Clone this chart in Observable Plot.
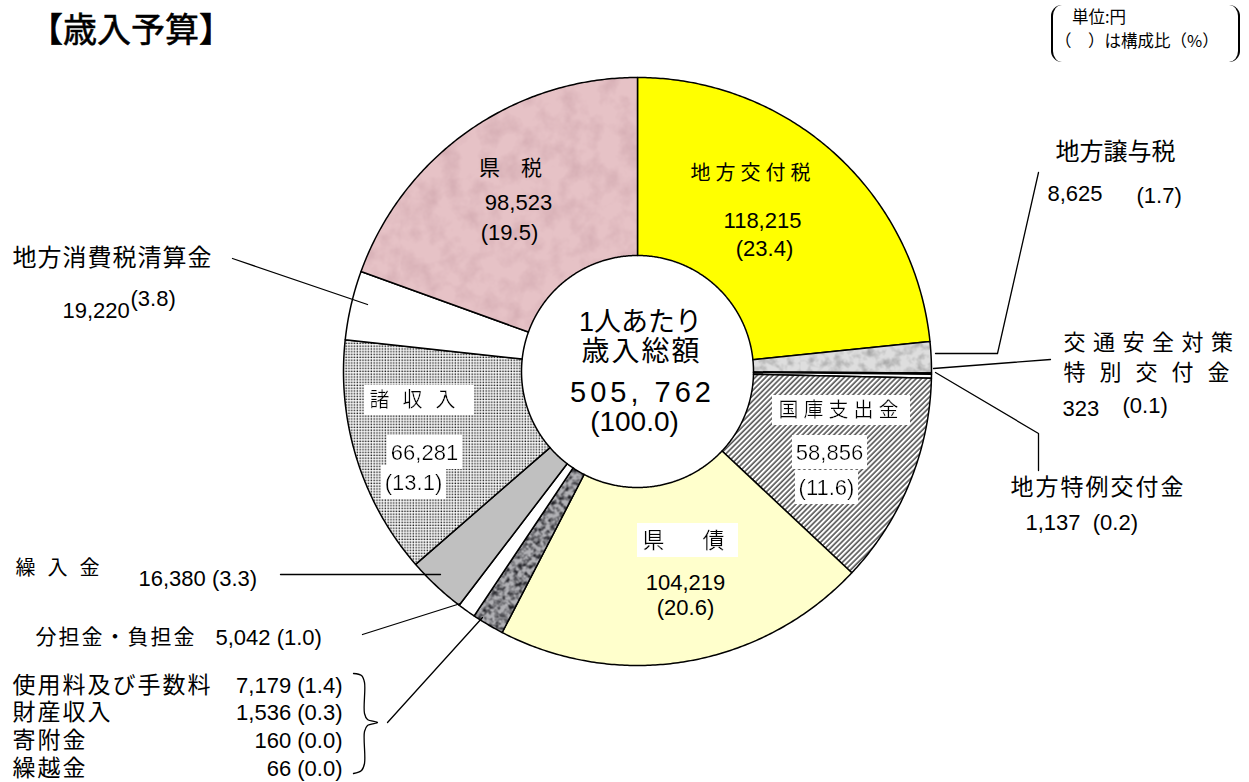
<!DOCTYPE html>
<html lang="ja"><head><meta charset="utf-8">
<script src="https://cdn.jsdelivr.net/npm/d3@7"></script>
<script src="https://cdn.jsdelivr.net/npm/@observablehq/plot@0.6"></script>
<style>
html,body{margin:0;padding:0;background:#fff;}
#wrap{position:relative;width:1249px;height:782px;overflow:hidden;font-family:'Liberation Sans','Noto Sans CJK JP',sans-serif;color:#000;}
#chart{position:absolute;left:0;top:0;}
#title{position:absolute;left:29px;top:5px;font-size:34px;font-weight:400;font-family:'Noto Sans CJK JP',sans-serif;line-height:46px;z-index:2;white-space:nowrap;-webkit-text-stroke:0.6px #000;}
#unit{position:absolute;left:1051px;top:5px;width:189px;height:57px;border-left:2px solid #000;border-right:2px solid #000;border-radius:11px;z-index:2;box-sizing:border-box;font-family:'Noto Sans CJK JP',sans-serif;font-size:16.5px;}
#unit .l1{position:absolute;left:19px;top:0px;line-height:23px;white-space:nowrap;}
#unit .l2{position:absolute;left:2px;top:24px;line-height:23px;white-space:nowrap;}
</style></head><body>
<svg width="0" height="0" style="position:absolute">
<defs>
  <pattern id="pHatch" patternUnits="userSpaceOnUse" width="3.7" height="10" patternTransform="rotate(45)">
    <rect width="3.7" height="10" fill="#fff"/>
    <line x1="1" y1="0" x2="1" y2="10" stroke="#1a1a1a" stroke-width="1.2"/>
  </pattern>
  <pattern id="pDots" patternUnits="userSpaceOnUse" width="2.8" height="2.8">
    <rect width="2.8" height="2.8" fill="#fff"/>
    <rect x="0.5" y="0.5" width="1.5" height="1.5" fill="#222"/>
  </pattern>
  <filter id="fNoisePink" x="0" y="0" width="1" height="1" color-interpolation-filters="sRGB">
    <feTurbulence type="fractalNoise" baseFrequency="0.05" numOctaves="4" seed="4"/>
    <feColorMatrix type="matrix" values="0 0 0 0 0.70  0 0 0 0 0.52  0 0 0 0 0.56  0.7 0 0 0 -0.28"/>
  </filter>
  <filter id="fNoiseLight" x="0" y="0" width="1" height="1" color-interpolation-filters="sRGB">
    <feTurbulence type="fractalNoise" baseFrequency="0.12" numOctaves="3" seed="7"/>
    <feColorMatrix type="matrix" values="0 0 0 0 0.5  0 0 0 0 0.5  0 0 0 0 0.5  1.4 0 0 0 -0.6"/>
  </filter>
  <filter id="fNoiseDark" x="0" y="0" width="1" height="1" color-interpolation-filters="sRGB">
    <feTurbulence type="fractalNoise" baseFrequency="0.22" numOctaves="2" seed="11"/>
    <feColorMatrix type="matrix" values="0 0 0 0 0.15  0 0 0 0 0.15  0 0 0 0 0.17  2.6 0 0 0 -1.0"/>
  </filter>
  <pattern id="pPink" patternUnits="userSpaceOnUse" width="400" height="400">
    <rect width="400" height="400" fill="#e6c2c6"/>
    <rect width="400" height="400" filter="url(#fNoisePink)"/>
  </pattern>
  <pattern id="pGrayLight" patternUnits="userSpaceOnUse" width="400" height="400">
    <rect width="400" height="400" fill="#dedede"/>
    <rect width="400" height="400" filter="url(#fNoiseLight)"/>
  </pattern>
  <pattern id="pGrayDark" patternUnits="userSpaceOnUse" width="400" height="400">
    <rect width="400" height="400" fill="#b0b0b4"/>
    <rect width="400" height="400" filter="url(#fNoiseDark)"/>
  </pattern>
  <filter id="fBox" x="-0.05" y="-0.16" width="1.1" height="1.32">
    <feFlood flood-color="#ffffff"/>
    <feComposite in="SourceGraphic" operator="over"/>
  </filter>
</defs>
</svg>
<div id="wrap">
  <div id="chart"></div>
  <div id="title">【歳入予算】</div>
  <div id="unit"><div class="l1">単位:円</div><div class="l2">（　）は構成比（%）</div></div>
</div>
<script>
// ---------------- data ----------------
const subCategories = ["使用料及び手数料", "財産収入", "寄附金", "繰越金"];
const subAmounts = [7179, 1536, 160, 66];
const subShares = [1.4, 0.3, 0.0, 0.0];

const categories = ["地方交付税", "地方譲与税", "交通安全対策特別交付金", "地方特例交付金", "国庫支出金", "県債",
  "使用料及び手数料等", "分担金・負担金", "繰入金", "諸収入", "地方消費税清算金", "県税"];
const amounts = [118215, 8625, 323, 1137, 58856, 104219,
  d3.sum(subAmounts), 5042, 16380, 66281, 19220, 98523];
const shares = [23.4, 1.7, 0.1, 0.2, 11.6, 20.6,
  null, 1.0, 3.3, 13.1, 3.8, 19.5];
const totalAmount = 505762;
const totalShare = 100.0;

// ---------------- styles / layout ----------------
const fills = ["#ffff00", "url(#pGrayLight)", "#ffffff", "#ffffff", "url(#pHatch)", "#ffffcc",
  "url(#pGrayDark)", "#ffffff", "#c0c0c0", "url(#pDots)", "#ffffff", "url(#pPink)"];
const W = 1249, H = 782;
const cx = 637, cy = 371, R = 294, R0 = 116;
const FONT = "'Liberation Sans','Noto Sans CJK JP',sans-serif";

const fmt = d3.format(",");
const idx = n => categories.indexOf(n);
const A = n => fmt(amounts[idx(n)]);
const P = n => `(${shares[idx(n)].toFixed(1)})`;

// slice polygons from d3.pie angles (clockwise from 12 o'clock)
const rows = categories.map((c, i) => ({cat: c, amount: amounts[i]}));
const arcs = d3.pie().sort(null).value(d => d.amount)(rows);
const slicePts = [];
const step = Math.PI / 360;
for (const a of arcs) {
  const n = Math.max(2, Math.ceil((a.endAngle - a.startAngle) / step));
  for (let k = 0; k <= n; k++) {
    const t = a.startAngle + (a.endAngle - a.startAngle) * k / n;
    slicePts.push({cat: a.data.cat, x: cx + R * Math.sin(t), y: cy - R * Math.cos(t)});
  }
  for (let k = n; k >= 0; k--) {
    const t = a.startAngle + (a.endAngle - a.startAngle) * k / n;
    slicePts.push({cat: a.data.cat, x: cx + R0 * Math.sin(t), y: cy - R0 * Math.cos(t)});
  }
}

// leader lines (layout)
const leaders = [
  ["譲与", [[1038,172],[997,353],[935,353]]],
  ["交通", [[1050,359],[933,368]]],
  ["特例", [[935,372],[1038,433],[1038,470]]],
  ["消費", [[232,258],[367,304]]],
  ["繰入", [[280,574],[440,574]]],
  ["分担", [[362,634],[460,603]]],
  ["群",   [[387,722],[482,617]]]
];
const leaderPts = leaders.flatMap(([id, pts]) => pts.map(([x, y]) => ({id, x, y})));
const bracePts = [[353,673],[361,675],[364,682],[364,713],[367,719],[377,722],[367,725],[364,731],[364,763],[361,770],[353,773]]
  .map(([x, y]) => ({x, y}));

// labels (layout)
const labels = [];
function L(text, x, y, size, o = {}) {
  labels.push({text, x, y, size, ls: o.ls || 0, anchor: o.anchor || "middle", box: !!o.box});
}
// inside slices
L("県　税", 510, 168, 21);
L(A("県税"), 518, 202, 22);
L(P("県税"), 509, 232, 22);
L("地方交付税", 750, 173, 20, {ls: 5});
L(A("地方交付税"), 762, 220, 22);
L(P("地方交付税"), 764, 248, 22);
L("国庫支出金", 838, 410, 20, {ls: 5, box: true});
L(A("国庫支出金"), 829, 452, 22, {box: true});
L(P("国庫支出金"), 826, 487, 22, {box: true});
L("県　債", 683, 540, 22, {ls: 8, box: true});
L(A("県債"), 685, 582, 22);
L(P("県債"), 685, 607, 22);
L("諸収入", 412, 400, 20, {ls: 13, box: true});
L(A("諸収入"), 424, 452, 22, {box: true});
L(P("諸収入"), 413, 482, 22, {box: true});
// center
L("1人あたり", 640, 322, 27);
L("歳入総額", 640, 352, 28, {ls: 2});
L(fmt(totalAmount).replace(",", ", "), 640, 392, 29, {ls: 4});
L(`(${totalShare.toFixed(1)})`, 634, 422, 28);
// outside
const S = {anchor: "start"};
L("地方譲与税", 1055, 152, 24, S);
L(A("地方譲与税"), 1047, 193, 22, S);
L(P("地方譲与税"), 1136, 195, 22, S);
L("交通安全対策", 1063, 342, 22, {ls: 7.5, anchor: "start"});
L("特別交付金", 1063, 372, 22, {ls: 14, anchor: "start"});
L(A("交通安全対策特別交付金"), 1062, 408, 22, S);
L(P("交通安全対策特別交付金"), 1122, 405, 22, S);
L("地方特例交付金", 1010, 487, 23, {ls: 2, anchor: "start"});
L(`${A("地方特例交付金")}  ${P("地方特例交付金")}`, 1025, 522, 22, S);
L("地方消費税清算金", 12, 258, 24, {ls: 1, anchor: "start"});
L(A("地方消費税清算金"), 62, 310, 22, S);
L(P("地方消費税清算金"), 130, 298, 22, S);
L("繰入金", 15, 568, 20, {ls: 12, anchor: "start"});
L(`${A("繰入金")} ${P("繰入金")}`, 138, 578, 22, S);
L("分担金・負担金", 35, 637, 21, {ls: 2, anchor: "start"});
L(`${A("分担金・負担金")} ${P("分担金・負担金")}`, 215, 637, 22, S);
const subY = [685, 712, 740, 768];
subCategories.forEach((c, i) => {
  L(c, 12, subY[i], 23, {ls: 2, anchor: "start"});
  L(`${fmt(subAmounts[i])} (${subShares[i].toFixed(1)})`, 342, subY[i], 22, {anchor: "end"});
});

// ---------------- plot ----------------
const chart = Plot.plot({
  width: W, height: H, margin: 0,
  x: {domain: [0, W], range: [0, W], axis: null},
  y: {domain: [0, H], range: [0, H], axis: null},
  color: {type: "ordinal", domain: categories, range: fills},
  marks: [
    Plot.line(slicePts, {x: "x", y: "y", z: "cat", fill: "cat", stroke: "#000", strokeWidth: 1.5, curve: "linear-closed"}),
    Plot.line(leaderPts, {x: "x", y: "y", z: "id", stroke: "#000", strokeWidth: 1.3}),
    Plot.line(bracePts, {x: "x", y: "y", stroke: "#000", strokeWidth: 1.3, curve: "catmull-rom"}),
    ...labels.map(d => Plot.text([d], {
      x: "x", y: "y", text: "text", fontSize: d.size, fontFamily: FONT,
      textAnchor: d.anchor, dx: d.anchor === "middle" ? d.ls / 2 : 0, fill: "#000"
    }))
  ]
});
document.getElementById("chart").appendChild(chart);
// post-style each label mark (text groups appear in label order)
const textGroups = chart.querySelectorAll('g[aria-label="text"]');
labels.forEach((d, i) => {
  const g = textGroups[i];
  if (!g) return;
  if (d.ls) g.querySelectorAll("text").forEach(t => t.setAttribute("letter-spacing", d.ls));
  if (d.box) g.querySelectorAll("text").forEach(t => t.setAttribute("filter", "url(#fBox)"));
});
</script>
</body></html>
